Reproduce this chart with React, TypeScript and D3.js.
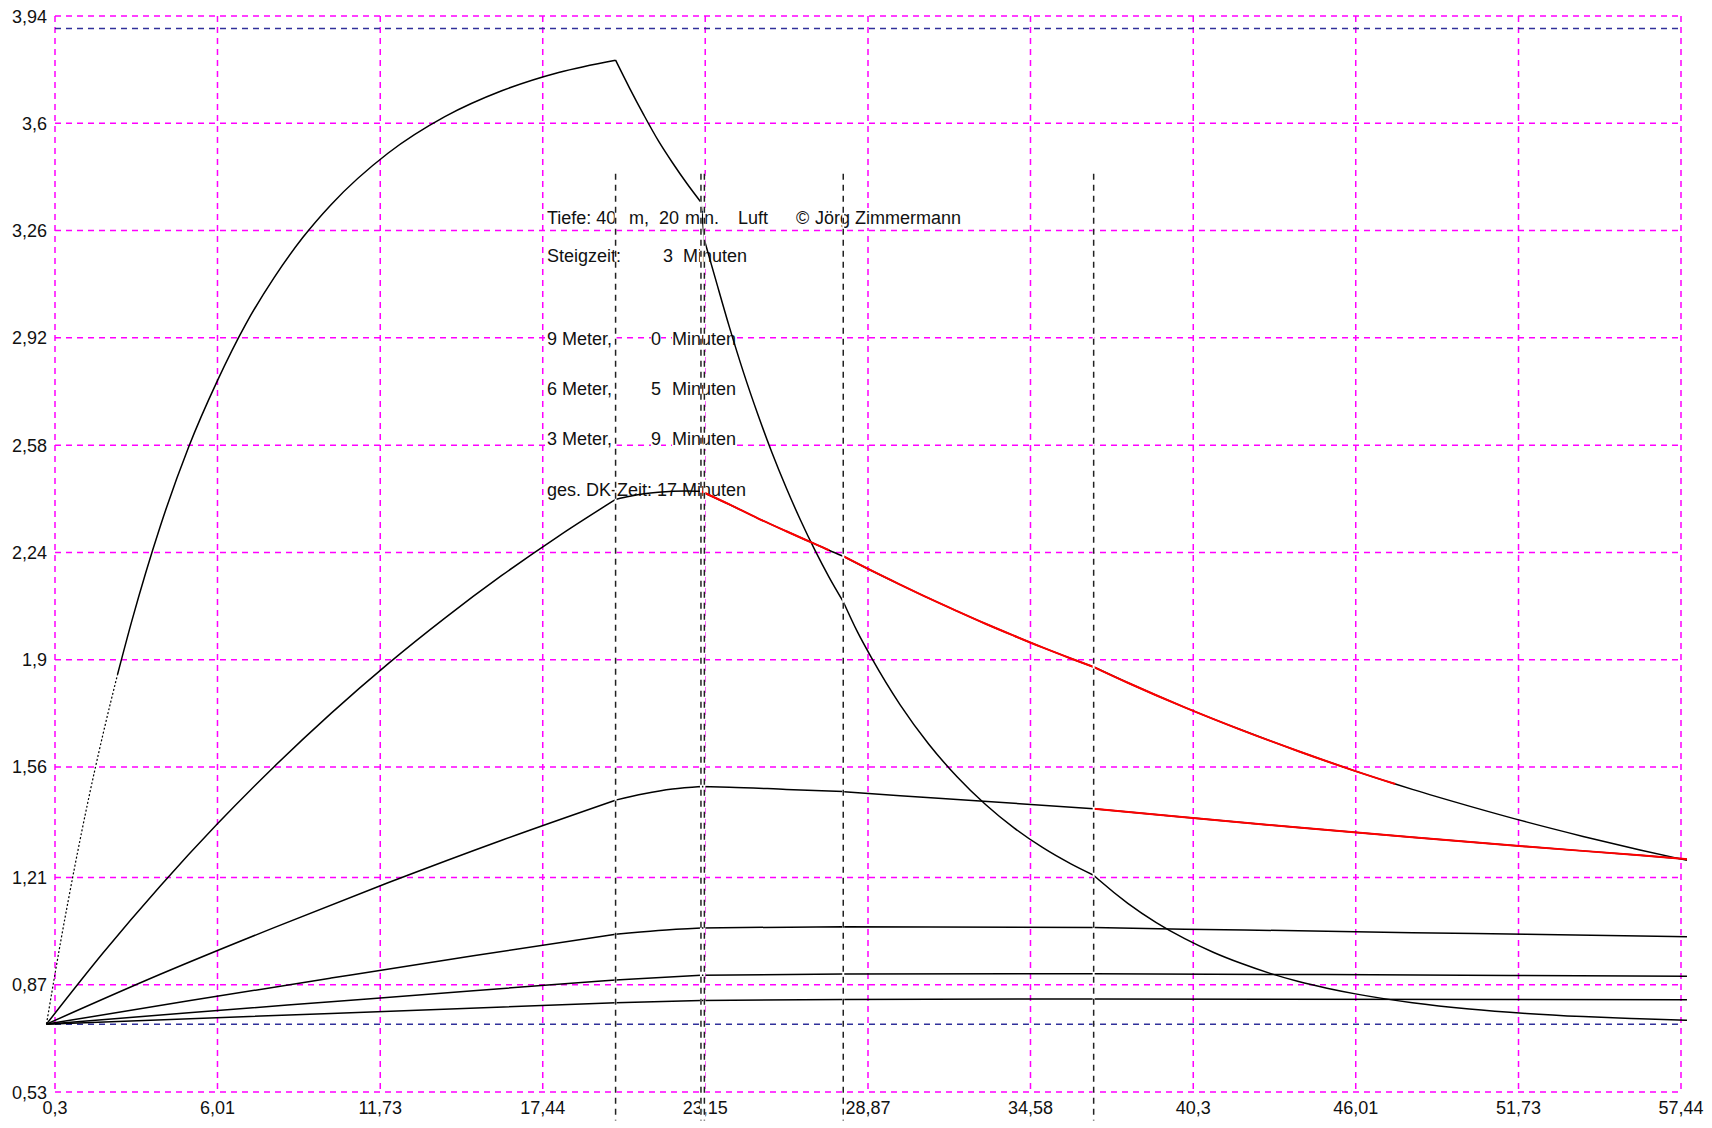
import React, { useEffect, useRef } from 'react';
import * as d3 from 'd3';

// axis ticks (the chart uses decimal commas)
const xTicks = [0.3, 6.01, 11.73, 17.44, 23.15, 28.87, 34.58, 40.3, 46.01, 51.73, 57.44];
const yTicks = [0.53, 0.87, 1.21, 1.56, 1.9, 2.24, 2.58, 2.92, 3.26, 3.6, 3.94];

// ambient N2 pressure at surface and at 40 m (blue dashed)
const ambientLevels = [0.745, 3.9];

// dive phase markers: end of bottom time, 9 m, 6 m, 3 m stop ends
const phaseMarks = [20, 23, 23.12, 28, 36.8];
const phaseMarkRange = [0.44, 3.44];

// tissue N2 pressure per compartment, [minute, bar]
const tissue1: [number, number][] = [
  [0, 0.745], [0.5, 1.007], [1, 1.247], [1.5, 1.468], [2, 1.669], [2.5, 1.854], [3, 2.023],
  [4, 2.323], [5, 2.575], [6, 2.783], [7, 2.963], [8, 3.111], [9, 3.237], [10, 3.342],
  [12, 3.505], [14, 3.621], [16, 3.703], [18, 3.761], [20, 3.8], [20.5, 3.71], [21, 3.625],
  [21.5, 3.545], [22, 3.475], [22.5, 3.41], [23, 3.35], [23.12, 3.23], [23.5, 3.11], [24, 2.954],
  [24.5, 2.809], [25, 2.677], [25.5, 2.555], [26, 2.444], [26.5, 2.342], [27, 2.248],
  [27.5, 2.162], [28, 2.084], [28.5, 1.988], [29, 1.905], [30, 1.757], [31, 1.633], [32, 1.529],
  [33, 1.441], [34, 1.367], [35, 1.305], [36, 1.253], [36.8, 1.217], [37, 1.201], [38, 1.128],
  [39, 1.067], [40, 1.016], [41, 0.973], [42, 0.937], [43, 0.906], [44, 0.88], [45, 0.859],
  [46, 0.841], [48, 0.813], [50, 0.793], [52, 0.779], [54, 0.769], [56, 0.762], [57.65, 0.757],
];
const tissue2: [number, number][] = [
  [0, 0.745], [2, 0.972], [4, 1.183], [6, 1.379], [8, 1.561], [10, 1.73], [12, 1.887],
  [14, 2.032], [16, 2.167], [18, 2.292], [20, 2.408], [20.5, 2.418], [21, 2.426], [21.5, 2.431],
  [22, 2.434], [22.5, 2.435], [23, 2.434], [24, 2.392], [25, 2.348], [26, 2.307], [27, 2.267],
  [27.5, 2.247], [28, 2.228], [29, 2.182], [30, 2.138], [31, 2.095], [32, 2.054], [33, 2.014],
  [34, 1.976], [35, 1.939], [36, 1.904], [36.8, 1.877], [38, 1.827], [40, 1.749], [42, 1.677],
  [44, 1.61], [46, 1.547], [47.4, 1.506], [48, 1.489], [50, 1.436], [52, 1.386], [54, 1.34],
  [56, 1.297], [57.65, 1.264],
];
const tissue3: [number, number][] = [
  [0, 0.745], [4, 0.903], [8, 1.051], [12, 1.193], [16, 1.328], [20, 1.455], [21, 1.475],
  [22, 1.49], [23, 1.498], [24, 1.496], [26, 1.489], [28, 1.482], [30, 1.469], [32, 1.457],
  [34, 1.445], [36.8, 1.428], [40, 1.401], [44, 1.368], [48, 1.337], [52, 1.308], [56, 1.28],
  [57.65, 1.268],
];
const tissue4: [number, number][] = [
  [0, 0.745], [5, 0.819], [10, 0.891], [15, 0.962], [20, 1.03], [21.5, 1.042], [23, 1.05],
  [28, 1.054], [36.8, 1.051], [40, 1.046], [44, 1.041], [48, 1.035], [52, 1.03], [57.65, 1.022],
];
const tissue5: [number, number][] = [
  [0, 0.745], [5, 0.781], [10, 0.816], [15, 0.851], [20, 0.885], [23, 0.9], [28, 0.904],
  [36.8, 0.905], [45, 0.902], [57.65, 0.897],
];
const tissue6: [number, number][] = [
  [0, 0.745], [10, 0.779], [20, 0.813], [23, 0.82], [28, 0.823], [36.8, 0.825], [57.65, 0.822],
];
const tissues = [tissue1, tissue2, tissue3, tissue4, tissue5, tissue6];

// the curves bend sharply where the dive phase changes
const phaseBreaks = [0, 20, 23, 23.12, 28, 36.8, 57.65];

// stretches drawn in red: [tissue index, from, to]
const redSpans: [number, number, number][] = [
  [1, 23, 27.5],
  [1, 28, 47.4],
  [2, 36.8, 57.65],
];
const dottedUntil = 2.5;

// info block, text pieces with left x and baseline
const infoPieces: [string, number, number][] = [
  ['Tiefe: 40', 547, 224], ['m,', 629, 224], ['20', 659, 224], ['min.', 685, 224],
  ['Luft', 738, 224], ['©', 796, 224], ['Jörg Zimmermann', 815, 224],
  ['Steigzeit:', 547, 262], ['3', 663, 262], ['Minuten', 683, 262],
  ['9 Meter,', 547, 345], ['0', 651, 345], ['Minuten', 672, 345],
  ['6 Meter,', 547, 395], ['5', 651, 395], ['Minuten', 672, 395],
  ['3 Meter,', 547, 445], ['9', 651, 445], ['Minuten', 672, 445],
  ['ges. DK-Zeit: 17 Minuten', 547, 496],
];

const fmt = (v: number) => String(v).replace('.', ',');

export default function App() {
  const svgRef = useRef<SVGSVGElement>(null);

  useEffect(() => {
    if (!svgRef.current) return;
    const svg = d3.select(svgRef.current);
    svg.selectAll('*').remove();

    const font = '"Liberation Sans", Arial, sans-serif';
    const x = d3.scaleLinear().domain([0.3, 57.44]).range([55, 1681]);
    const y = d3.scaleLinear().domain([0.53, 3.94]).range([1092, 16]);
    const [x0, x1] = x.range();
    const [yb, yt] = y.range();

    svg.append('rect').attr('width', 1712).attr('height', 1128).attr('fill', '#fff');

    // magenta grid
    const grid = svg.append('g').attr('stroke', '#ff00ff').attr('stroke-width', 1.5)
      .attr('stroke-dasharray', '6,5').attr('fill', 'none');
    xTicks.forEach(t => {
      grid.append('line').attr('x1', x(t)).attr('x2', x(t)).attr('y1', yt).attr('y2', yb);
    });
    yTicks.forEach(v => {
      grid.append('line').attr('x1', x0).attr('x2', x1).attr('y1', y(v)).attr('y2', y(v));
    });

    // blue ambient lines
    ambientLevels.forEach(v => {
      svg.append('line').attr('x1', x0).attr('x2', x1).attr('y1', y(v)).attr('y2', y(v))
        .attr('stroke', '#30309a').attr('stroke-width', 1.5).attr('stroke-dasharray', '6,5');
    });

    // tick labels
    const labels = svg.append('g').style('font-family', font).attr('font-size', 18).attr('fill', '#111');
    yTicks.forEach(v => {
      labels.append('text').attr('x', 47).attr('y', y(v) + 6.5).attr('text-anchor', 'end').text(fmt(v));
    });
    xTicks.forEach(t => {
      labels.append('text').attr('x', x(t)).attr('y', 1114).attr('text-anchor', 'middle').text(fmt(t));
    });

    // info block with opaque white boxes behind each piece
    const info = svg.append('g').style('font-family', font).attr('font-size', 18).attr('fill', '#111');
    infoPieces.forEach(([s, px, py]) => {
      const txt = info.append('text').attr('x', px).attr('y', py).text(s);
      const b = (txt.node() as SVGTextElement).getBBox();
      info.insert('rect', () => txt.node())
        .attr('x', b.x).attr('y', b.y).attr('width', b.width).attr('height', b.height)
        .attr('fill', '#fff');
    });

    // smooth within each phase, sharp bends between phases;
    // each piece takes the nearest readings on either side so pieces join up
    const line = d3.line<[number, number]>().x(d => x(d[0])).y(d => y(d[1])).curve(d3.curveMonotoneX);
    const pathFor = (pts: [number, number][], from: number, to: number) => {
      const cuts = [from, ...phaseBreaks.filter(b => b > from && b < to), to];
      return d3.pairs(cuts)
        .map(([a, b]) => {
          let i0 = 0;
          pts.forEach((d, k) => { if (d[0] <= a) i0 = k; });
          let i1 = pts.findIndex(d => d[0] >= b);
          if (i1 < 0) i1 = pts.length - 1;
          return pts.slice(i0, i1 + 1);
        })
        .filter(seg => seg.length > 1)
        .map(seg => line(seg) as string)
        .join('');
    };

    tissues.forEach((pts, i) => {
      const end = pts[pts.length - 1][0];
      if (i === 0) {
        svg.append('path').attr('d', pathFor(pts, 0, dottedUntil))
          .attr('fill', 'none').attr('stroke', '#000').attr('stroke-width', 1.2)
          .attr('stroke-dasharray', '2,2');
        svg.append('path').attr('d', pathFor(pts, dottedUntil, end))
          .attr('fill', 'none').attr('stroke', '#000').attr('stroke-width', 1.5);
      } else {
        svg.append('path').attr('d', pathFor(pts, 0, end))
          .attr('fill', 'none').attr('stroke', '#000').attr('stroke-width', 1.5);
      }
    });
    redSpans.forEach(([i, from, to]) => {
      svg.append('path').attr('d', pathFor(tissues[i], from, to))
        .attr('fill', 'none').attr('stroke', '#ff0000').attr('stroke-width', 2);
    });

    // phase markers: dashed black with white gaps
    phaseMarks.forEach(t => {
      svg.append('line').attr('x1', x(t)).attr('x2', x(t))
        .attr('y1', y(phaseMarkRange[1])).attr('y2', y(phaseMarkRange[0]))
        .attr('stroke', '#fff').attr('stroke-width', 2);
      svg.append('line').attr('x1', x(t)).attr('x2', x(t))
        .attr('y1', y(phaseMarkRange[1])).attr('y2', y(phaseMarkRange[0]))
        .attr('stroke', '#222').attr('stroke-width', 1.5).attr('stroke-dasharray', '6,5');
    });
  }, []);

  return (
    <svg
      ref={svgRef}
      width={1712}
      height={1128}
      viewBox="0 0 1712 1128"
      style={{ position: 'absolute', left: 0, top: 0 }}
    />
  );
}
